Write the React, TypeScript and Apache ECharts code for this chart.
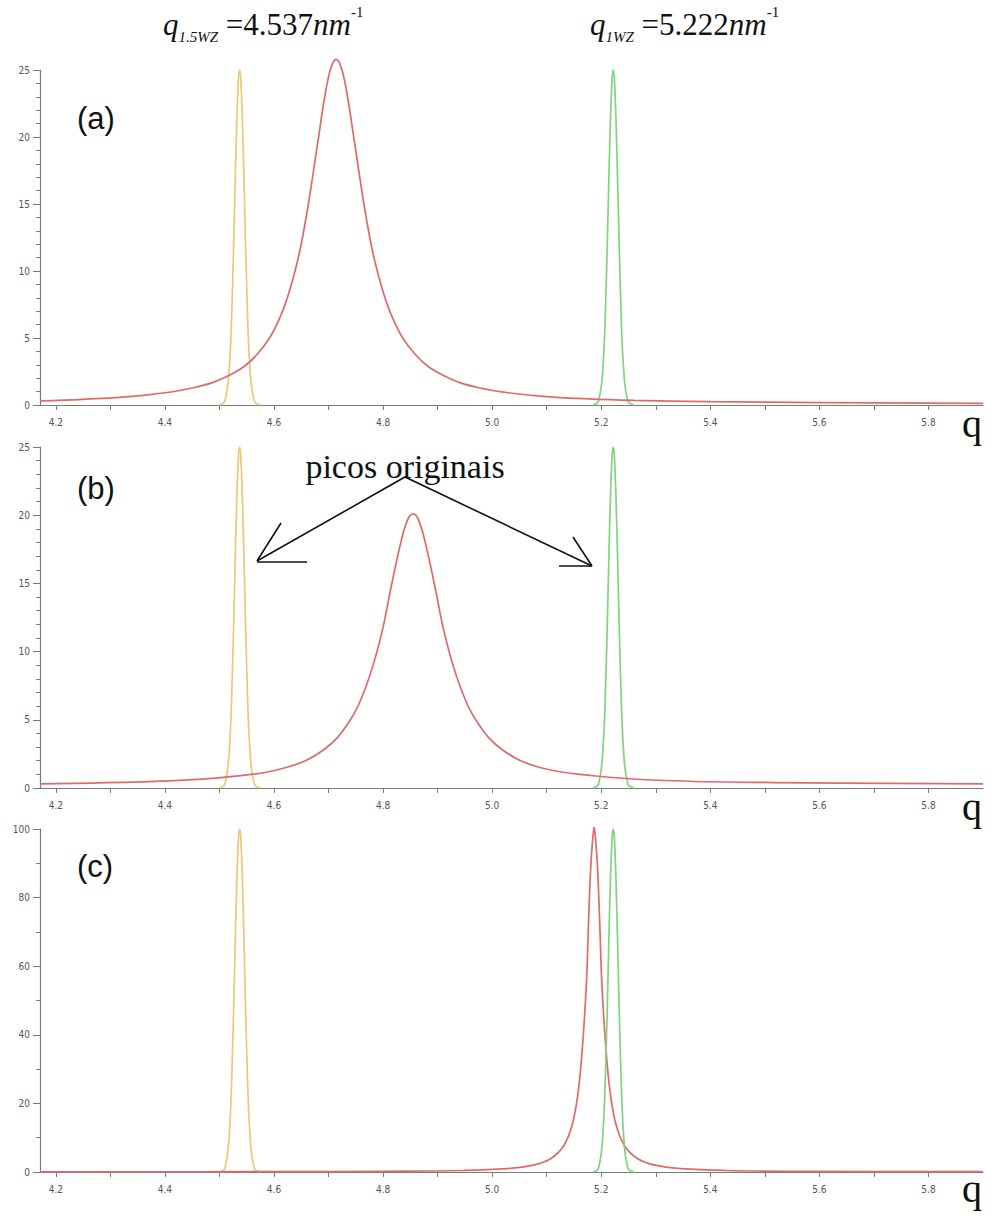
import React, { useEffect, useRef } from "react";
import * as echarts from "echarts";

// x-axis (q) ticks and labels
const qTicks = [4.2, 4.3, 4.4, 4.5, 4.6, 4.7, 4.8, 4.9, 5.0, 5.1, 5.2, 5.3, 5.4, 5.5, 5.6, 5.7, 5.8];
const qLabels = [4.2, 4.4, 4.6, 4.8, 5.0, 5.2, 5.4, 5.6, 5.8];

// original peaks (q1.5WZ and q1WZ)
const yellowQ = [4.5, 4.51, 4.518, 4.524, 4.528, 4.532, 4.535, 4.537, 4.539, 4.542, 4.546, 4.55, 4.556, 4.564, 4.575];
const yellowI25 = [0.0, 0.3, 2.7, 8.8, 15.2, 21.4, 24.4, 25.0, 24.4, 21.4, 15.2, 8.8, 2.7, 0.3, 0.0];
const yellowI100 = [0.0, 1.1, 10.8, 35.2, 60.7, 85.7, 97.6, 100.0, 97.6, 85.7, 60.7, 35.2, 10.8, 1.1, 0.0];
const greenQ = [5.185, 5.195, 5.203, 5.209, 5.213, 5.217, 5.22, 5.222, 5.224, 5.227, 5.231, 5.235, 5.241, 5.249, 5.26];
const greenI25 = [0.0, 0.3, 2.7, 8.8, 15.2, 21.4, 24.4, 25.0, 24.4, 21.4, 15.2, 8.8, 2.7, 0.3, 0.0];
const greenI100 = [0.0, 1.1, 10.8, 35.2, 60.7, 85.7, 97.6, 100.0, 97.6, 85.7, 60.7, 35.2, 10.8, 1.1, 0.0];

// panel (a) red peak
const redAQ = [4.171, 4.25, 4.35, 4.45, 4.52, 4.57, 4.61, 4.64, 4.66, 4.68, 4.695, 4.705, 4.714, 4.723, 4.733, 4.748, 4.768, 4.788, 4.818, 4.858, 4.908, 4.978, 5.078, 5.178, 5.26, 5.4, 5.6, 5.9];
const redAI = [0.31, 0.42, 0.68, 1.27, 2.25, 3.82, 6.44, 10.23, 14.25, 19.53, 23.45, 25.23, 25.8, 25.23, 23.45, 19.53, 14.25, 10.23, 6.44, 3.82, 2.25, 1.27, 0.7, 0.45, 0.34, 0.25, 0.18, 0.12];

// panel (b) red peak
const redBQ = [4.171, 4.393, 4.525, 4.624, 4.69, 4.736, 4.769, 4.796, 4.815, 4.832, 4.845, 4.855, 4.865, 4.878, 4.895, 4.914, 4.941, 4.974, 5.02, 5.086, 5.185, 5.317, 5.515, 5.9];
const redBI = [0.3, 0.5, 0.85, 1.52, 2.77, 4.74, 7.48, 11.1, 14.77, 17.9, 19.66, 20.1, 19.66, 17.9, 14.77, 11.1, 7.48, 4.74, 2.77, 1.52, 0.9, 0.55, 0.4, 0.3];

// panel (c) red peak
const redCQ = [4.171, 4.6, 4.8, 4.947, 5.027, 5.075, 5.107, 5.131, 5.147, 5.158, 5.166, 5.173, 5.177, 5.181, 5.185, 5.187, 5.189, 5.193, 5.197, 5.201, 5.208, 5.216, 5.227, 5.243, 5.267, 5.299, 5.347, 5.427, 5.587, 5.9];
const redCI = [0.05, 0.1, 0.2, 0.44, 0.99, 2.0, 3.87, 7.59, 13.9, 23.7, 37.4, 55.5, 73.9, 89.5, 98.3, 100.5, 98.3, 89.5, 73.9, 55.5, 37.4, 23.7, 13.9, 7.59, 3.87, 2.0, 0.99, 0.44, 0.16, 0.09];

const RED = "#e06a6a";
const YELLOW = "#e9c97c";
const GREEN = "#7fd57f";
const AXIS = "#7a7a7a";

const pair = (q: number[], v: number[]) => q.map((x, i) => [x, v[i]]);

const grids = [
  { left: 40, top: 70, width: 943, height: 335 },
  { left: 40, top: 447, width: 943, height: 341 },
  { left: 40, top: 829, width: 943, height: 343 },
];

function xAxisFor(i: number) {
  return {
    type: "value",
    gridIndex: i,
    min: 4.171,
    max: 5.9,
    axisLine: { show: true, onZero: false, lineStyle: { color: AXIS, width: 1.2 } },
    axisTick: { show: true, customValues: qTicks, length: 5, lineStyle: { color: AXIS } },
    axisLabel: {
      customValues: qLabels,
      formatter: (v: number) => v.toFixed(1),
      fontSize: 10,
      color: "#555",
      margin: 12,
      fontFamily: "DejaVu Sans Condensed, Liberation Sans, sans-serif",
    },
    splitLine: { show: false },
  };
}

function yAxisFor(i: number, max: number, interval: number, minorSplit: number) {
  return {
    type: "value",
    gridIndex: i,
    min: 0,
    max,
    interval,
    axisLine: { show: true, lineStyle: { color: AXIS, width: 1.2 } },
    axisTick: { show: true, length: 7, lineStyle: { color: AXIS } },
    minorTick: { show: true, splitNumber: minorSplit, length: 4, lineStyle: { color: AXIS } },
    axisLabel: {
      fontSize: 10,
      color: "#555",
      margin: 10,
      fontFamily: "DejaVu Sans Condensed, Liberation Sans, sans-serif",
    },
    splitLine: { show: false },
  };
}

function line(i: number, data: number[][], color: string) {
  return {
    type: "line",
    xAxisIndex: i,
    yAxisIndex: i,
    data,
    showSymbol: false,
    smooth: 0.4,
    clip: false,
    lineStyle: { color, width: 1.7 },
    itemStyle: { color },
    z: 3,
  };
}

const serif = "'Liberation Serif', 'Times New Roman', serif";

function formula(x: number, sub: string, value: string) {
  return {
    type: "text",
    x,
    y: 24,
    style: {
      text: `{q|q}{sub|${sub}}{n| =${value}}{q|nm}{sup|-1}`,
      fontFamily: serif,
      fontSize: 30,
      fill: "#111",
      verticalAlign: "middle",
      rich: {
        q: { fontFamily: serif, fontStyle: "italic", fontSize: 31, lineHeight: 40, verticalAlign: "middle", fill: "#111" },
        sub: { fontFamily: serif, fontStyle: "italic", fontSize: 15, lineHeight: 40, verticalAlign: "bottom", fill: "#111" },
        n: { fontFamily: serif, fontStyle: "normal", fontSize: 31, lineHeight: 40, verticalAlign: "middle", fill: "#111" },
        sup: { fontFamily: serif, fontStyle: "normal", fontSize: 15, lineHeight: 40, verticalAlign: "top", fill: "#111" },
      },
    },
  };
}

function qName(y: number) {
  return {
    type: "text",
    x: 962,
    y,
    style: { text: "q", fontFamily: serif, fontSize: 40, fill: "#111", verticalAlign: "middle" },
  };
}

function panelLabel(text: string, y: number) {
  return {
    type: "text",
    x: 77,
    y,
    style: { text, fontFamily: "'Liberation Sans', Arial, sans-serif", fontSize: 31, fill: "#111", verticalAlign: "middle" },
  };
}

const arrowStyle = { stroke: "#111", lineWidth: 1.6, fill: null };

export default function App() {
  const ref = useRef<HTMLDivElement>(null);
  useEffect(() => {
    if (!ref.current) return;
    const chart = echarts.init(ref.current, null, { renderer: "svg" });
    chart.setOption({
      animation: false,
      backgroundColor: "#fff",
      grid: grids,
      xAxis: [xAxisFor(0), xAxisFor(1), xAxisFor(2)],
      yAxis: [yAxisFor(0, 25, 5, 5), yAxisFor(1, 25, 5, 5), yAxisFor(2, 100, 20, 2)],
      series: [
        line(0, pair(yellowQ, yellowI25), YELLOW),
        line(0, pair(greenQ, greenI25), GREEN),
        line(0, pair(redAQ, redAI), RED),
        line(1, pair(yellowQ, yellowI25), YELLOW),
        line(1, pair(greenQ, greenI25), GREEN),
        line(1, pair(redBQ, redBI), RED),
        line(2, pair(yellowQ, yellowI100), YELLOW),
        line(2, pair(redCQ, redCI), RED),
        line(2, pair(greenQ, greenI100), GREEN),
      ],
      graphic: [
        formula(163, "1.5WZ", "4.537"),
        formula(590, "1WZ", "5.222"),
        qName(423),
        qName(806),
        qName(1188),
        panelLabel("(a)", 118),
        panelLabel("(b)", 488),
        panelLabel("(c)", 866),
        {
          type: "text",
          x: 405,
          y: 466,
          style: { text: "picos originais", fontFamily: serif, fontSize: 34, fill: "#111", align: "center", verticalAlign: "middle" },
        },
        { type: "polyline", shape: { points: [[257, 561], [405, 477], [592, 566]] }, style: arrowStyle },
        { type: "line", shape: { x1: 257, y1: 561, x2: 281, y2: 523 }, style: arrowStyle },
        { type: "line", shape: { x1: 257, y1: 562, x2: 307, y2: 562 }, style: arrowStyle },
        { type: "line", shape: { x1: 592, y1: 566, x2: 573, y2: 537 }, style: arrowStyle },
        { type: "line", shape: { x1: 592, y1: 566, x2: 559, y2: 566 }, style: arrowStyle },
      ],
    });
    return () => chart.dispose();
  }, []);
  return <div ref={ref} style={{ position: "absolute", left: 0, top: 0, width: 993, height: 1220 }} />;
}
